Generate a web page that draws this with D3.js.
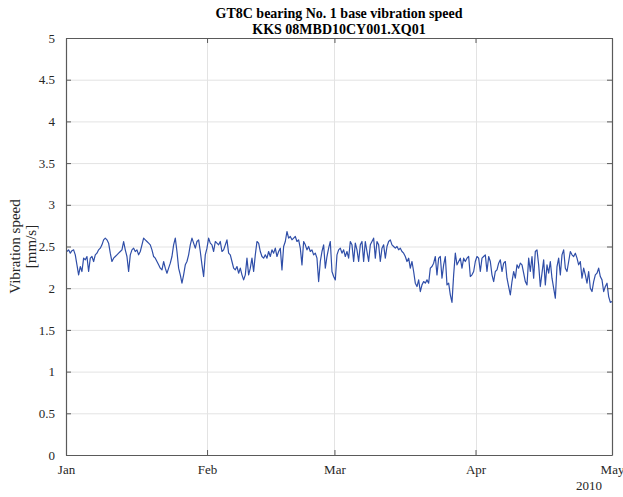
<!DOCTYPE html>
<html>
<head>
<meta charset="utf-8">
<script src="https://cdn.jsdelivr.net/npm/d3@7"></script>
<style>
  html, body { margin: 0; padding: 0; background: #fff; }
  svg { display: block; }
</style>
</head>
<body>
<svg id="chart" width="623" height="497"></svg>
<script>
// ---- Data ----
const titleLines = ["GT8C bearing No. 1 base vibration speed", "KKS 08MBD10CY001.XQ01"];
const yLabelLines = ["Vibration speed", "[mm/s]"];
const yTicks = [0, 0.5, 1, 1.5, 2, 2.5, 3, 3.5, 4, 4.5, 5];
const yTickLabels = ["0", "0.5", "1", "1.5", "2", "2.5", "3", "3.5", "4", "4.5", "5"];
const xTickLabels = ["Jan", "Feb", "Mar", "Apr", "May"];
const yearLabel = "2010";
const startTime = new Date(2010, 0, 1, 5, 0);
const endTime = new Date(2010, 4, 1, 0, 0);

// vibration speed samples (mm/s), evenly spaced from startTime to endTime
const speedJan = [2.44,2.46,2.42,2.45,2.46,2.40,2.28,2.16,2.26,2.20,2.36,2.34,2.38,2.20,2.36,2.38,2.32,2.40,2.42,2.46,
  2.48,2.52,2.58,2.60,2.58,2.54,2.42,2.32,2.36,2.38,2.40,2.42,2.44,2.46,2.56,2.46,2.38,2.20,2.40,2.46,
  2.48,2.44,2.46,2.40,2.44,2.52,2.60,2.58,2.56,2.54,2.52,2.46,2.38,2.36,2.32,2.28,2.24,2.22,2.32,2.24,
  2.18,2.24,2.30,2.38,2.52,2.60,2.44,2.24,2.16,2.06,2.16,2.28,2.32,2.40,2.52,2.60,2.54,2.48,2.56,2.58,
  2.44,2.28,2.14,2.40,2.48,2.60,2.54,2.52,2.44,2.56,2.54,2.52,2.56,2.44,2.46,2.52,2.58,2.42,2.40,2.32,
  2.24,2.22,2.26,2.18,2.24,2.16,2.10,2.16,2.36];
const speedFebMar = [2.16,2.24,2.36,2.20,2.40,2.56,2.54,2.44,2.38,2.36,2.40,2.36,2.44,2.38,2.46,2.42,2.48,2.38,2.44,2.48,
  2.22,2.50,2.56,2.68,2.60,2.62,2.58,2.60,2.62,2.56,2.58,2.48,2.28,2.56,2.52,2.46,2.50,2.44,2.46,2.40,
  2.42,2.36,2.08,2.32,2.44,2.52,2.24,2.38,2.48,2.56,2.20,2.14,2.10,2.40,2.46,2.48,2.42,2.46,2.38,2.44,
  2.36,2.56,2.52,2.32,2.54,2.46,2.32,2.52,2.56,2.32,2.56,2.44,2.32,2.52,2.56,2.60,2.36,2.56,2.52,2.32,
  2.48,2.52,2.36,2.50,2.56,2.58,2.52,2.50,2.48,2.50,2.46,2.48,2.44,2.42,2.38,2.32,2.36,2.24,2.32,2.20,
  2.06,2.02,2.10,1.96,2.04,2.08,2.06,2.10];
const speedAprMay = [2.06,2.24,2.26,2.30,2.38,2.16,2.36,2.38,2.12,2.28,2.38,2.04,2.06,1.92,1.83,2.16,2.42,2.28,2.32,2.36,
  2.24,2.36,2.32,2.36,2.38,2.14,2.16,2.20,2.32,2.38,2.36,2.20,2.36,2.38,2.40,2.20,2.38,2.32,2.16,2.08,
  2.20,2.22,2.30,2.34,2.20,2.30,2.32,2.12,2.02,1.92,2.08,2.20,2.12,2.28,2.24,2.30,2.28,2.18,2.08,2.04,
  2.36,2.20,2.38,2.12,2.44,2.46,2.28,2.02,2.18,2.34,2.04,2.28,2.18,2.32,2.12,2.00,1.88,2.26,2.36,2.16,
  2.40,2.46,2.24,2.20,2.32,2.44,2.40,2.38,2.42,2.36,2.28,2.32,2.12,2.24,2.16,2.06,2.20,2.00,1.96,2.08,
  2.16,2.18,2.24,2.14,2.10,1.96,2.02,2.06,1.90,1.83,1.84];
const speed = speedJan.concat(speedFebMar, speedAprMay);

// ---- Layout ----
const svg = d3.select("#chart");
const mLeft = 66, mRight = 612, mTop = 38, mBottom = 455;
const serif = "'Liberation Serif', 'Times New Roman', serif";
const axisColor = "#5a5a5a";
const textColor = "#262626";

const x = d3.scaleTime().domain([new Date(2010, 0, 1), new Date(2010, 4, 1)]).range([mLeft, mRight]);
const y = d3.scaleLinear().domain([0, 5]).range([mBottom, mTop]);
const tScale = d3.scaleLinear().domain([0, speed.length - 1]).range([startTime.getTime(), endTime.getTime()]);
const data = speed.map((v, i) => ({ t: new Date(tScale(i)), v }));
const monthTicks = d3.timeMonth.range(new Date(2010, 0, 1), new Date(2010, 4, 2));

// grid
const grid = svg.append("g");
grid.selectAll("line.gy").data(yTicks.slice(1, -1)).join("line")
  .attr("x1", mLeft).attr("x2", mRight)
  .attr("y1", d => y(d) + 0.5).attr("y2", d => y(d) + 0.5)
  .attr("stroke", "#e3e3e3").attr("stroke-width", 1);
grid.selectAll("line.gx").data(monthTicks.slice(1, -1)).join("line")
  .attr("x1", d => Math.round(x(d)) + 0.5).attr("x2", d => Math.round(x(d)) + 0.5)
  .attr("y1", mTop).attr("y2", mBottom)
  .attr("stroke", "#e3e3e3").attr("stroke-width", 1);

// line
svg.append("path").datum(data)
  .attr("fill", "none").attr("stroke", "#2f4ea8").attr("stroke-width", 1.2)
  .attr("stroke-linejoin", "round")
  .attr("d", d3.line().x(d => x(d.t)).y(d => y(d.v)));

// axes
const yAxisL = d3.axisLeft(y).tickValues(yTicks).tickFormat((d, i) => yTickLabels[i]).tickSizeInner(-5).tickSizeOuter(0).tickPadding(11);
const yAxisR = d3.axisRight(y).tickValues(yTicks).tickFormat("").tickSizeInner(-5).tickSizeOuter(0);
const xAxisB = d3.axisBottom(x).tickValues(monthTicks).tickFormat((d, i) => xTickLabels[i]).tickSizeInner(-5).tickSizeOuter(0).tickPadding(10);
const xAxisT = d3.axisTop(x).tickValues(monthTicks).tickFormat("").tickSizeInner(-5).tickSizeOuter(0);

function styleAxis(g) {
  g.select(".domain").attr("stroke", axisColor).attr("stroke-width", 1.2);
  g.selectAll(".tick line").attr("stroke", axisColor);
  g.selectAll(".tick text").attr("fill", textColor).style("font-family", serif).style("font-size", "13px");
}
svg.append("g").attr("transform", `translate(${mLeft},0)`).call(yAxisL).call(styleAxis);
svg.append("g").attr("transform", `translate(${mRight},0)`).call(yAxisR).call(styleAxis);
svg.append("g").attr("transform", `translate(0,${mBottom})`).call(xAxisB).call(styleAxis);
svg.append("g").attr("transform", `translate(0,${mTop})`).call(xAxisT).call(styleAxis);

// year label
svg.append("text").attr("x", x(new Date(2010, 4, 1)) - 10).attr("y", 490)
  .attr("text-anchor", "end").attr("fill", textColor)
  .style("font-family", serif).style("font-size", "13px").text(yearLabel);

// title
svg.append("g").selectAll("text").data(titleLines).join("text")
  .attr("x", (mLeft + mRight) / 2).attr("y", (d, i) => 18 + i * 16)
  .attr("text-anchor", "middle").attr("fill", "#000")
  .style("font-family", serif).style("font-size", "14px").style("font-weight", "bold")
  .text(d => d);

// y label
svg.append("g").selectAll("text").data(yLabelLines).join("text")
  .attr("transform", (d, i) => `translate(${20 + i * 16},${(mTop + mBottom) / 2}) rotate(-90)`)
  .attr("text-anchor", "middle").attr("fill", textColor)
  .style("font-family", serif).style("font-size", "15px")
  .text(d => d);
</script>
</body>
</html>
